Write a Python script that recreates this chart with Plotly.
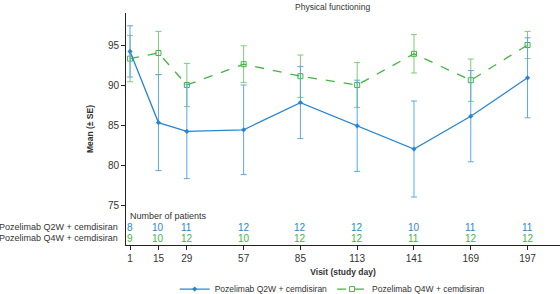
import plotly.graph_objects as go

days = [1, 15, 29, 57, 85, 113, 141, 169, 197]
q2w_mean = [94.2, 85.3, 84.2, 84.4, 87.8, 84.9, 82.0, 86.1, 90.9]
q2w_se = [3.2, 6.0, 5.9, 5.6, 4.5, 5.7, 6.0, 5.7, 5.0]
q4w_mean = [93.3, 94.0, 90.0, 92.6, 91.1, 90.0, 93.9, 90.6, 95.0]
q4w_se = [2.9, 2.7, 2.7, 2.3, 2.65, 2.8, 2.4, 2.65, 1.7]
n_q2w = [8, 10, 11, 12, 12, 12, 10, 11, 11]
n_q4w = [9, 10, 12, 10, 12, 12, 11, 12, 12]
y_ticks = [75, 80, 85, 90, 95]
name_q2w = "Pozelimab Q2W + cemdisiran"
name_q4w = "Pozelimab Q4W + cemdisiran"

BLUE = "#2a86d4"
BLUE_ERR = "#5aaae3"
GREEN = "#43b543"
GREEN_ERR = "#7ccb7c"
TXT = "#333333"

fig = go.Figure()
fig.add_trace(go.Scatter(
    x=days, y=q4w_mean, name=name_q4w, mode="lines+markers",
    line=dict(color=GREEN, width=1.3, dash="dash"),
    marker=dict(symbol="square-open", size=5, color=GREEN, line=dict(width=1)),
    error_y=dict(type="data", array=q4w_se, color=GREEN_ERR, thickness=1, width=3),
))
fig.add_trace(go.Scatter(
    x=days, y=q2w_mean, name=name_q2w, mode="lines+markers",
    line=dict(color=BLUE, width=1.3),
    marker=dict(symbol="diamond", size=4, color=BLUE),
    error_y=dict(type="data", array=q2w_se, color=BLUE_ERR, thickness=1, width=3),
))

ann = []
ann.append(dict(x=-0.2, y=73.6, xref="x", yref="y", text="Number of patients",
                showarrow=False, xanchor="left", yanchor="middle",
                font=dict(size=9, color=TXT)))
for d, a, b in zip(days, n_q2w, n_q4w):
    ann.append(dict(x=d, y=72.2, xref="x", yref="y", text=str(a), showarrow=False,
                    xanchor="center", yanchor="middle", font=dict(size=10, color=BLUE)))
    ann.append(dict(x=d, y=70.85, xref="x", yref="y", text=str(b), showarrow=False,
                    xanchor="center", yanchor="middle", font=dict(size=10, color=GREEN)))
ann.append(dict(x=-0.014, y=72.2, xref="paper", yref="y", text=name_q2w, showarrow=False,
                xanchor="right", yanchor="middle", font=dict(size=9, color=TXT)))
ann.append(dict(x=-0.014, y=70.85, xref="paper", yref="y", text=name_q4w, showarrow=False,
                xanchor="right", yanchor="middle", font=dict(size=9, color=TXT)))
ann.append(dict(x=0.475, y=1.056, xref="paper", yref="paper", text="Physical functioning",
                showarrow=False, xanchor="center", yanchor="top", font=dict(size=8.5, color=TXT)))

fig.update_layout(
    width=560, height=294,
    margin=dict(l=126, r=0, t=13, b=49, autoexpand=False),
    paper_bgcolor="white", plot_bgcolor="white",
    font=dict(family="Arimo, Liberation Sans, Arial, sans-serif", color=TXT, size=9),
    annotations=ann,
    showlegend=True,
    legend=dict(orientation="h", x=0.475, xanchor="center", y=-0.19, yanchor="middle",
                font=dict(size=8.5, color=TXT), traceorder="reversed",
                itemwidth=30, bgcolor="rgba(0,0,0,0)"),
    xaxis=dict(range=[-1, 213], tickvals=days, ticks="outside", ticklen=4,
               tickcolor="#222", showline=True, linecolor="#222", linewidth=1,
               showgrid=False, zeroline=False, tickfont=dict(size=10, color=TXT),
               automargin=False,
               title=dict(text="<b>Visit (study day)</b>", font=dict(size=8.5, color=TXT),
                          standoff=6)),
    yaxis=dict(range=[70, 99], tickvals=y_ticks, ticks="outside", ticklen=4,
               tickcolor="#222", showline=True, linecolor="#222", linewidth=1,
               showgrid=False, zeroline=False, tickfont=dict(size=10, color=TXT),
               automargin=False,
               title=dict(text="<b>Mean (± SE)</b>", font=dict(size=8.5, color=TXT),
                          standoff=12)),
)

fig.write_html("out.html", config={"displayModeBar": False},
               post_script="document.body.style.margin='0';")
